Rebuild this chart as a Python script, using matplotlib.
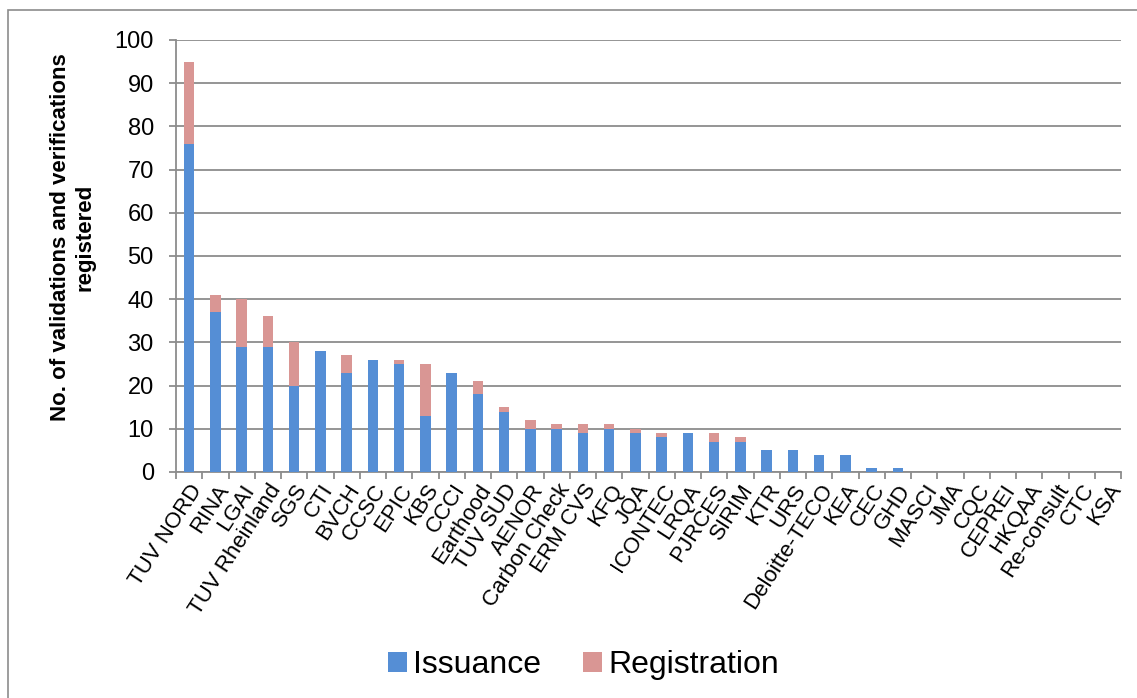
import numpy as np
import matplotlib.pyplot as plt
from matplotlib.patches import Rectangle

# -----------------------------
# Data
# -----------------------------
bodies = ["TUV NORD", "RINA", "LGAI", "TUV Rheinland", "SGS", "CTI", "BVCH", "CCSC",
          "EPIC", "KBS", "CCCI", "Earthood", "TUV SUD", "AENOR", "Carbon Check",
          "ERM CVS", "KFQ", "JQA", "ICONTEC", "LRQA", "PJRCES", "SIRIM", "KTR", "URS",
          "Deloitte-TECO", "KEA", "CEC", "GHD", "MASCI", "JMA", "CQC", "CEPREI",
          "HKQAA", "Re-consult", "CTC", "KSA"]
issuance = [76, 37, 29, 29, 20, 28, 23, 26, 25, 13, 23, 18, 14, 10, 10, 9, 10, 9,
            8, 9, 7, 7, 5, 5, 4, 4, 1, 1, 0, 0, 0, 0, 0, 0, 0, 0]
registration = [19, 4, 11, 7, 10, 0, 4, 0, 1, 12, 0, 3, 1, 2, 1, 2, 1, 1,
                1, 0, 2, 1, 0, 0, 0, 0, 0, 0, 0, 0, 0, 0, 0, 0, 0, 0]

plt.rcParams['font.family'] = ['Liberation Sans', 'DejaVu Sans']

W, H = 1137, 698
fig = plt.figure(figsize=(W / 100, H / 100), dpi=100)

# outer chart border (Excel style)
fig.patches.append(Rectangle((8 / W, -0.05), 1.2, 1 - 10 / H + 0.05,
                             transform=fig.transFigure, fill=False,
                             edgecolor='#8c8c8c', linewidth=1.2))

ax = fig.add_axes([176 / W, 1 - 472 / H, (1121 - 176) / W, (472 - 40) / H])

x = np.arange(len(bodies))
ax.bar(x, issuance, width=0.4, color='#558ED5', label='Issuance', zorder=3)
ax.bar(x, registration, width=0.4, bottom=issuance, color='#D99694',
       label='Registration', zorder=3)

ax.set_xlim(-0.5, len(bodies) - 0.5)
ax.set_ylim(0, 100)
ax.set_yticks(np.arange(0, 101, 10))
ax.yaxis.grid(True, color='#8c8c8c', linewidth=1.3, zorder=0)
ax.set_axisbelow(True)

for s in ['top', 'right']:
    ax.spines[s].set_visible(False)
for s in ['left', 'bottom']:
    ax.spines[s].set_color('#8c8c8c')
    ax.spines[s].set_linewidth(1.3)

ax.tick_params(axis='y', labelsize=17, length=5, width=1.3, color='#8c8c8c', pad=11)
ax.set_xticks(x)
ax.set_xticks(np.arange(-0.5, len(bodies), 1), minor=True)
ax.tick_params(axis='x', which='major', length=0, pad=6)
ax.tick_params(axis='x', which='minor', length=5, width=1.3, color='#8c8c8c')
ax.set_xticklabels(bodies, rotation=57, ha='right', rotation_mode='anchor', fontsize=16)

ax.set_ylabel("No. of validations and verifications\nregistered", fontsize=16,
              fontweight='bold')
ax.yaxis.set_label_coords(-0.085, 0.544)

fig.legend(loc='center', bbox_to_anchor=(0.513, 1 - 665 / H), ncol=2, frameon=False,
           fontsize=23, handlelength=0.6, handleheight=0.6, handletextpad=0.2,
           columnspacing=1.3)

plt.savefig("out.png", dpi=100)
